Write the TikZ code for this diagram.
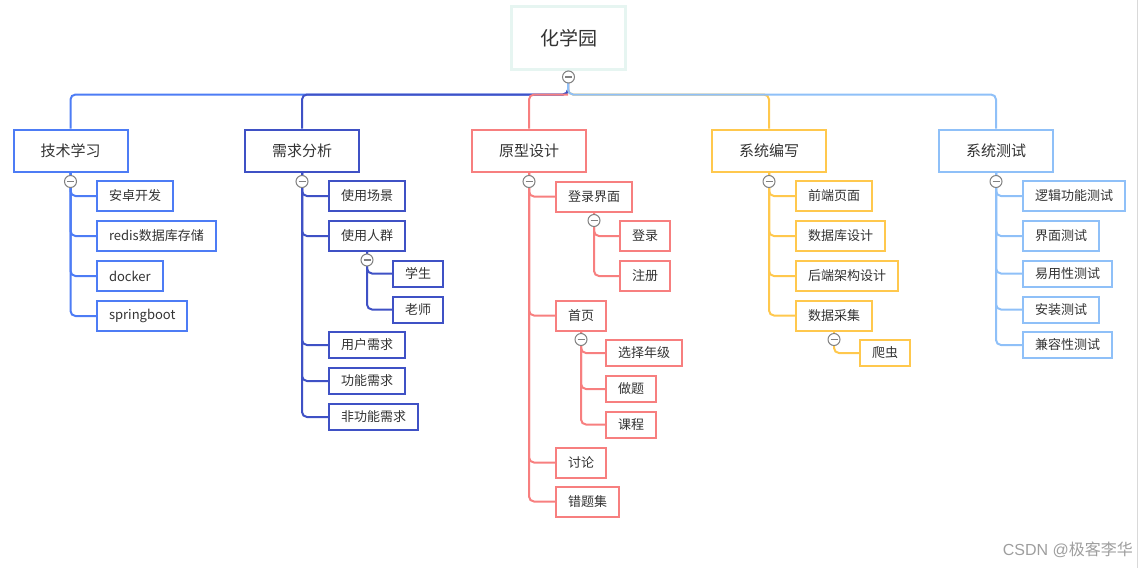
\documentclass[tikz,border=0pt]{standalone}
\usepackage{fontspec}
\setmainfont{Noto Sans CJK SC}
\newfontfamily\marksans{Liberation Sans}
\usepackage{xcolor}
\usepackage{tikz}

\definecolor{techc}{HTML}{4D7CF5}
\definecolor{reqc}{HTML}{3F51C5}
\definecolor{protoc}{HTML}{F77F7F}
\definecolor{codec}{HTML}{FFC84D}
\definecolor{testc}{HTML}{8FC0F8}
\definecolor{rootc}{HTML}{E6F5F1}
\definecolor{txt}{HTML}{333333}

\begin{document}
\begin{tikzpicture}[x=1pt, y=-1pt,
        topic/.style={draw=#1, line width=2pt, fill=white, minimum width=114pt, minimum height=42pt, text=txt, font=\fontsize{15pt}{18pt}\selectfont},
        leaf/.style={draw=#1, line width=2pt, fill=white, anchor=west, minimum height=30pt, inner xsep=12pt, inner ysep=0pt, text=txt, font=\fontsize{13pt}{15pt}\selectfont},
        low/.style={minimum height=26pt},
        branch/.style={draw=#1, line width=2pt, rounded corners=5pt},
        fold/.style={circle, draw=black!50, fill=white, line width=1pt, minimum size=12pt, inner sep=0pt,
            path picture={\draw[black!50, line width=1.6pt] ([xshift=-3.5pt]path picture bounding box.center) -- ([xshift=3.5pt]path picture bounding box.center);}}]
        \useasboundingbox (0,0) rectangle (1139,568);
        \draw[black!15, line width=1pt] (1137.5,0) -- (1137.5,568);

        % root and main topics
        \node[draw=rootc, line width=3pt, fill=white, minimum width=114pt, minimum height=63pt, text=txt, font=\fontsize{19pt}{22pt}\selectfont] (root) at (568.5,38) {化学园};
        \coordinate (hub) at (568,94.5);
        \node[topic=techc] (tech) at (70.5,150.5) {技术学习};
        \node[topic=reqc] (req) at (302,150.5) {需求分析};
        \node[topic=protoc] (proto) at (529,150.5) {原型设计};
        \node[topic=codec] (code) at (769,150.5) {系统编写};
        \node[topic=testc] (test) at (996,150.5) {系统测试};

        % 技术学习
        \node[leaf=techc] (tech1) at (96,196) {安卓开发};
        \node[leaf=techc] (tech2) at (96,236) {redis数据库存储};
        \node[leaf=techc] (tech3) at (96,276) {docker};
        \node[leaf=techc] (tech4) at (96,316) {springboot};

        % 需求分析
        \node[leaf=reqc] (req1) at (328,196) {使用场景};
        \node[leaf=reqc] (req2) at (328,236) {使用人群};
        \node[leaf=reqc, low] (req21) at (392,273.5) {学生};
        \node[leaf=reqc, low] (req22) at (392,309.5) {老师};
        \node[leaf=reqc, low] (req3) at (328,345) {用户需求};
        \node[leaf=reqc, low] (req4) at (328,381) {功能需求};
        \node[leaf=reqc, low] (req5) at (328,417) {非功能需求};

        % 原型设计
        \node[leaf=protoc] (proto1) at (555,196.5) {登录界面};
        \node[leaf=protoc] (proto11) at (619,236) {登录};
        \node[leaf=protoc] (proto12) at (619,276) {注册};
        \node[leaf=protoc] (proto2) at (555,315.5) {首页};
        \node[leaf=protoc, low] (proto21) at (605,353) {选择年级};
        \node[leaf=protoc, low] (proto22) at (605,389) {做题};
        \node[leaf=protoc, low] (proto23) at (605,424.5) {课程};
        \node[leaf=protoc] (proto3) at (555,462.5) {讨论};
        \node[leaf=protoc] (proto4) at (555,501.5) {错题集};

        % 系统编写
        \node[leaf=codec] (code1) at (795,196) {前端页面};
        \node[leaf=codec] (code2) at (795,236) {数据库设计};
        \node[leaf=codec] (code3) at (795,276) {后端架构设计};
        \node[leaf=codec] (code4) at (795,315.5) {数据采集};
        \node[leaf=codec, low] (code41) at (859,353) {爬虫};

        % 系统测试
        \node[leaf=testc] (test1) at (1022,196) {逻辑功能测试};
        \node[leaf=testc] (test2) at (1022,236) {界面测试};
        \node[leaf=testc, low] (test3) at (1022,273.5) {易用性测试};
        \node[leaf=testc, low] (test4) at (1022,309.5) {安装测试};
        \node[leaf=testc, low] (test5) at (1022,345) {兼容性测试};

        % connectors
        \draw[branch=techc] (root.south) -- (hub) -| (tech.north);
        \draw[branch=reqc] (root.south) -- (hub) -| (req.north);
        \draw[branch=codec] (root.south) -- (hub) -| (code.north);
        \draw[branch=testc] (root.south) -- (hub) -| (test.north);
        \draw[branch=protoc] (hub) -| (proto.north);
        \foreach \n in {tech1,tech2,tech3,tech4} \draw[branch=techc] (tech.south) |- (\n.west);
        \foreach \n in {req1,req2,req3,req4,req5} \draw[branch=reqc] (req.south) |- (\n.west);
        \foreach \n in {req21,req22} \draw[branch=reqc] (req2.south) |- (\n.west);
        \foreach \n in {proto1,proto2,proto3,proto4} \draw[branch=protoc] (proto.south) |- (\n.west);
        \foreach \n in {proto11,proto12} \draw[branch=protoc] (proto1.south) |- (\n.west);
        \foreach \n in {proto21,proto22,proto23} \draw[branch=protoc] (proto2.south) |- (\n.west);
        \foreach \n in {code1,code2,code3,code4} \draw[branch=codec] (code.south) |- (\n.west);
        \draw[branch=codec] (code4.south) |- (code41.west);
        \foreach \n in {test1,test2,test3,test4,test5} \draw[branch=testc] (test.south) |- (\n.west);

        % fold buttons
        \node[fold] (f0) at ([yshift=-6pt]root.south) {};
        \foreach \t in {tech,req,proto,code,test} \node[fold] at ([yshift=-9pt]\t.south) {};
        \foreach \t in {req2,proto1,proto2,code4} \node[fold] at ([yshift=-8pt]\t.south) {};

        \node[anchor=east, inner sep=0pt, text=black!38, font=\fontsize{16pt}{19pt}\selectfont] (mark) at (1133,550) {{\marksans CSDN @}极客李华};
    \end{tikzpicture}
\end{document}
